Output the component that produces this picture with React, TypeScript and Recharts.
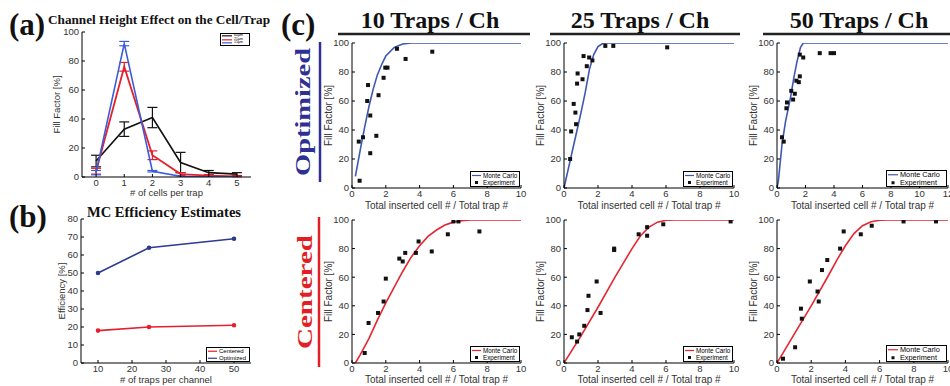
import React from 'react';
import { ComposedChart, Line, Scatter, XAxis, YAxis, ErrorBar, Legend } from 'recharts';

const SANS = '"Liberation Sans", Arial, Helvetica, sans-serif';
const SERIF = '"Liberation Serif", "Times New Roman", serif';

// ---------- (a) Channel height effect ----------
const cellsPerTrap = [0, 1, 2, 3, 4, 5];
const fill60um = [11, 33, 41, 10, 3, 2];
const err60um = [4, 5, 7, 7, 1.5, 1];
const fill21um = [4, 76, 15, 2, 1, 0.5];
const err21um = [2, 3, 3, 1, 0.5, 0.3];
const fill15um = [3, 92, 4, 0.5, 0, 0];
const err15um = [1.5, 1.5, 0.5, 0, 0, 0];
const heightNames = ['60μm', '21μm', '15μm'];
const aTicksX = [0, 1, 2, 3, 4, 5];
const ffTicks = [0, 20, 40, 60, 80, 100];

// ---------- (b) MC efficiency ----------
const trapsPerChannel = [10, 25, 50];
const effCentered = [18, 20, 21];
const effOptimized = [50, 64, 69];
const bTicksX = [10, 20, 30, 40, 50];
const bTicksY = [0, 10, 20, 30, 40, 50, 60, 70, 80];
const bNames = ['Centered', 'Optimized'];

// ---------- (c) Monte Carlo curves ----------
const mcOpt10X = [0.2, 0.5, 0.75, 1, 1.25, 1.5, 1.75, 2, 2.5, 3, 3.5, 10];
const mcOpt10Y = [8, 27, 42, 56, 68, 78, 85, 91, 97, 99.3, 100, 100];
const mcOpt25X = [0, 0.25, 0.5, 0.75, 1, 1.25, 1.5, 1.75, 2, 2.25, 2.5, 10];
const mcOpt25Y = [0, 13, 26, 39, 52, 66, 82, 92, 97.5, 99.5, 100, 100];
const mcOpt50X = [0, 0.1, 0.35, 0.6, 0.94, 1.2, 1.4, 1.65, 1.85, 12];
const mcOpt50Y = [0, 5, 30, 46, 62, 77, 87, 97, 100, 100];
const mcCen10X = [0.2, 0.5, 1, 1.5, 2, 2.5, 3, 3.5, 4, 4.5, 5, 5.5, 6, 6.5, 7, 10];
const mcCen10Y = [0, 6, 17, 30, 42, 53, 64, 74, 82, 88.5, 93, 96.5, 98.5, 99.5, 100, 100];
const mcCen25X = [0, 1, 2, 3, 3.5, 4, 4.5, 5, 5.5, 6, 6.5, 10];
const mcCen25Y = [0, 19, 39, 60, 70, 80, 89, 95, 98.5, 99.8, 100, 100];
const mcCen50X = [0, 1, 2, 3, 3.5, 4, 4.5, 5, 5.5, 6, 6.5, 10];
const mcCen50Y = [0, 20, 40, 61, 72, 82, 90.5, 96, 98.8, 99.8, 100, 100];

// ---------- (c) Experiments ----------
const exOpt10X = [0.4, 0.45, 0.65, 0.9, 0.95, 1.08, 1.08, 1.44, 1.57, 1.87, 1.97, 2.1, 2.66, 3.17, 4.75];
const exOpt10Y = [32, 5, 35, 60, 71, 50, 24, 36, 64, 76, 83, 83, 96, 89, 94];
const exOpt25X = [0.36, 0.42, 0.57, 0.67, 0.71, 0.77, 0.8, 1.09, 1.15, 1.34, 1.48, 1.67, 2.43, 2.9, 6.07];
const exOpt25Y = [20, 39, 58, 52, 44, 72, 79, 75, 91, 84, 90, 88, 98, 98, 97];
const exOpt50X = [0.35, 0.47, 0.66, 0.7, 1.0, 1.13, 1.25, 1.36, 1.53, 1.6, 1.6, 1.84, 3.0, 3.76, 4.0];
const exOpt50Y = [35, 32, 55, 59, 67, 61, 65, 74, 73, 77, 92, 90, 93, 93, 93];
const exCen10X = [0.75, 0.98, 1.54, 1.87, 2.0, 2.8, 3.0, 3.15, 3.78, 3.94, 4.72, 5.67, 6.0, 6.3, 7.54];
const exCen10Y = [7, 28, 35, 43, 59, 73, 71, 77, 77, 85, 78, 90, 99, 99, 92];
const exCen25X = [0.46, 0.77, 0.9, 1.19, 1.38, 1.44, 1.92, 2.15, 2.95, 2.95, 4.39, 4.89, 4.89, 5.84, 9.8];
const exCen25Y = [18, 15, 20, 26, 37, 47, 57, 35, 80, 79, 90, 95, 89, 97, 99];
const exCen50X = [0.35, 1.06, 1.4, 1.45, 1.92, 2.37, 2.44, 2.63, 2.94, 3.69, 3.9, 4.9, 5.54, 7.4, 9.3];
const exCen50Y = [3, 11, 38, 31, 57, 50, 43, 65, 72, 80, 92, 90, 96, 99, 99];

const cTicks10 = [0, 2, 4, 6, 8, 10];
const cTicks12 = [0, 2, 4, 6, 8, 10, 12];
const cNames = ['Monte Carlo', 'Experiment'];
const columnTitles = ['10 Traps / Ch', '25 Traps / Ch', '50 Traps / Ch'];
const rowTitles = ['Optimized', 'Centered'];

const BLACK = '#111';
const RED = '#e5202e';
const BLUE_A = '#3b5bd9';
const NAVY = '#2c3b8f';
const MC_BLUE = '#3d58b0';
const MC_RED = '#e52632';
const OPT_COLOR = '#2e3192';
const CEN_COLOR = '#e31e24';
const TXT = '#333';

const pts = (xs: number[], ys: number[]) => xs.map((x, i) => ({ x, y: ys[i] }));

const aData = cellsPerTrap.map((n, i) => ({
  x: n, h60: fill60um[i], e60: err60um[i], h21: fill21um[i], e21: err21um[i], h15: fill15um[i], e15: err15um[i],
}));
const bData = trapsPerChannel.map((t, i) => ({ x: t, cen: effCentered[i], opt: effOptimized[i] }));

const MT = 6;
const MR = 8;

type LegendSpec = { w: number; h: number; fs: number; sample: number; corner: 'tr' | 'br'; order: string[] };

function makeLegendContent(spec: LegendSpec) {
  return (props: any) => {
    const raw = props.payload || [];
    const items = [...raw].sort((a: any, b: any) => spec.order.indexOf(a.value) - spec.order.indexOf(b.value));
    const rowH = (spec.h - 2) / Math.max(items.length, 1);
    return (
      <div style={{ width: spec.w, height: spec.h, boxSizing: 'border-box', border: '1px solid #000', background: '#fff', fontFamily: SANS, fontSize: spec.fs, color: '#000', whiteSpace: 'nowrap', overflow: 'hidden' }}>
        {items.map((it: any, i: number) => (
          <div key={i} style={{ display: 'flex', alignItems: 'center', height: rowH, lineHeight: `${rowH}px` }}>
            <svg width={spec.sample} height={rowH} style={{ flex: 'none' }}>
              {it.type === 'square' ? (
                <rect x={spec.sample / 2 - 1.5} y={rowH / 2 - 1.5} width={3} height={3} fill={it.color} />
              ) : (
                <line x1={1} x2={spec.sample - 1} y1={rowH / 2} y2={rowH / 2} stroke={it.color} strokeWidth={1.2} />
              )}
            </svg>
            <span style={{ marginLeft: 1 }}>{it.value}</span>
          </div>
        ))}
      </div>
    );
  };
}

type PanelProps = {
  left: number; top: number; w: number; h: number; yw: number; xh: number;
  xDomain: [number, number]; xTicks: number[]; yDomain: [number, number]; yTicks: number[];
  xLabel: string; yLabel: string; tickFs: number; labelFs: number;
  data?: any[]; yKey?: string; legend?: LegendSpec; children: React.ReactNode;
};

function Panel(p: PanelProps) {
  const cw = p.yw + p.w + MR;
  const ch = MT + p.h + p.xh;
  const cl = p.left - p.yw;
  const ct = p.top - MT;
  let legendEl: React.ReactNode = null;
  if (p.legend) {
    const lg = p.legend;
    const lx = p.yw + p.w - lg.w - 1;
    const ly = lg.corner === 'tr' ? MT + 1 : MT + p.h - lg.h - 1;
    legendEl = (
      <Legend layout="vertical" align="center" verticalAlign="middle" content={makeLegendContent(lg)}
        wrapperStyle={{ left: lx, top: ly, right: 'auto', bottom: 'auto', width: lg.w, height: lg.h, margin: 0, padding: 0 }} />
    );
  }
  const tickStyle = { fill: TXT, fontSize: p.tickFs, fontFamily: SANS };
  return (
    <div style={{ position: 'absolute', left: cl, top: ct, width: cw, height: ch }}>
      <ComposedChart width={cw} height={ch} data={p.data} margin={{ top: MT, right: MR, bottom: 0, left: 0 }}>
        <XAxis type="number" dataKey="x" domain={p.xDomain} ticks={p.xTicks} allowDataOverflow interval={0}
          height={p.xh} tickSize={-3} tickMargin={5} stroke="#000" tick={tickStyle}
          label={{ value: p.xLabel, position: 'center', fontSize: p.labelFs, fill: TXT, fontFamily: SANS }} />
        <YAxis type="number" dataKey={p.yKey} domain={p.yDomain} ticks={p.yTicks} allowDataOverflow interval={0}
          width={p.yw} tickSize={-3} tickMargin={6} stroke="#000" tick={tickStyle}
          label={{ value: p.yLabel, position: 'center', angle: -90, fontSize: p.labelFs, fill: TXT, fontFamily: SANS }} />
        <XAxis xAxisId="t" orientation="top" type="number" domain={p.xDomain} ticks={p.xTicks} allowDataOverflow interval={0}
          height={0} tick={false} tickSize={-3} stroke="#000" />
        <YAxis yAxisId="r" orientation="right" type="number" domain={p.yDomain} ticks={p.yTicks} allowDataOverflow interval={0}
          width={0} tick={false} tickSize={-3} stroke="#000" />
        {p.children}
        {legendEl}
      </ComposedChart>
    </div>
  );
}

const squareShape = (props: any) => (
  <rect x={props.cx - 2} y={props.cy - 2} width={4} height={4} fill={BLACK} />
);

const colLefts = [352, 564, 777];
const colWidths = [169, 170, 171];
const rowTops = [43, 220];
const rowHeights = [145, 143];
const rowXh = [34, 33];

const cPanels = [
  { row: 0, col: 0, mcX: mcOpt10X, mcY: mcOpt10Y, exX: exOpt10X, exY: exOpt10Y, color: MC_BLUE, ticks: cTicks10, dom: [0, 10] as [number, number] },
  { row: 0, col: 1, mcX: mcOpt25X, mcY: mcOpt25Y, exX: exOpt25X, exY: exOpt25Y, color: MC_BLUE, ticks: cTicks10, dom: [0, 10] as [number, number] },
  { row: 0, col: 2, mcX: mcOpt50X, mcY: mcOpt50Y, exX: exOpt50X, exY: exOpt50Y, color: MC_BLUE, ticks: cTicks12, dom: [0, 12] as [number, number] },
  { row: 1, col: 0, mcX: mcCen10X, mcY: mcCen10Y, exX: exCen10X, exY: exCen10Y, color: MC_RED, ticks: cTicks10, dom: [0, 10] as [number, number] },
  { row: 1, col: 1, mcX: mcCen25X, mcY: mcCen25Y, exX: exCen25X, exY: exCen25Y, color: MC_RED, ticks: cTicks10, dom: [0, 10] as [number, number] },
  { row: 1, col: 2, mcX: mcCen50X, mcY: mcCen50Y, exX: exCen50X, exY: exCen50Y, color: MC_RED, ticks: cTicks10, dom: [0, 10] as [number, number] },
];

function Overlay() {
  const headerCenters = [430, 640, 859];
  const underline = [[338, 530], [550, 740], [763, 950]];
  return (
    <svg width={950} height={386} style={{ position: 'absolute', left: 0, top: 0 }}>
      <g fontFamily={SERIF} fontWeight="bold" fill="#111">
        <text x={9} y={35} fontSize={31}>(a)</text>
        <text x={9} y={227} fontSize={31}>(b)</text>
        <text x={281} y={35} fontSize={31}>(c)</text>
        <text x={159} y={24} fontSize={13} textAnchor="middle" textLength={222} lengthAdjust="spacingAndGlyphs">Channel Height Effect on the Cell/Trap</text>
        <text x={164} y={217} fontSize={14.5} textAnchor="middle" textLength={154} lengthAdjust="spacingAndGlyphs">MC Efficiency Estimates</text>
        {columnTitles.map((t, i) => (
          <text key={t} x={headerCenters[i]} y={28} fontSize={24} textAnchor="middle">{t}</text>
        ))}
      </g>
      {underline.map((u, i) => (
        <line key={i} x1={u[0]} x2={u[1]} y1={34} y2={34} stroke="#222" strokeWidth={2.5} />
      ))}
      <text transform="translate(310,112) rotate(-90)" fontFamily={SERIF} fontWeight="bold" fontSize={21} fill={OPT_COLOR}
        textAnchor="middle" textLength={128} lengthAdjust="spacingAndGlyphs">{rowTitles[0]}</text>
      <line x1={320} x2={320} y1={42} y2={182} stroke={OPT_COLOR} strokeWidth={2.5} />
      <text transform="translate(312,292) rotate(-90)" fontFamily={SERIF} fontWeight="bold" fontSize={21} fill={CEN_COLOR}
        textAnchor="middle" textLength={114} lengthAdjust="spacingAndGlyphs">{rowTitles[1]}</text>
      <line x1={319} x2={319} y1={217} y2={367} stroke={CEN_COLOR} strokeWidth={2.5} />
    </svg>
  );
}

export default function App() {
  return (
    <div style={{ position: 'absolute', left: 0, top: 0, width: 950, height: 386, overflow: 'hidden', background: '#fff' }}>
      <Overlay />
      {/* (a) */}
      <Panel left={82} top={32} w={169} h={145} yw={50} xh={32} xDomain={[-0.5, 5.5]} xTicks={aTicksX}
        yDomain={[0, 100]} yTicks={ffTicks} xLabel="# of cells per trap" yLabel="Fill Factor [%]" tickFs={9.5} labelFs={9.5}
        data={aData} legend={{ w: 30, h: 13, fs: 3.6, sample: 12, corner: 'tr', order: heightNames }}>
        <Line dataKey="h60" name={heightNames[0]} stroke={BLACK} strokeWidth={1.6} dot={false} isAnimationActive={false} legendType="line">
          <ErrorBar dataKey="e60" width={5} stroke={BLACK} strokeWidth={1.2} direction="y" />
        </Line>
        <Line dataKey="h21" name={heightNames[1]} stroke={RED} strokeWidth={1.8} dot={false} isAnimationActive={false} legendType="line">
          <ErrorBar dataKey="e21" width={5} stroke={RED} strokeWidth={1.2} direction="y" />
        </Line>
        <Line dataKey="h15" name={heightNames[2]} stroke={BLUE_A} strokeWidth={1.6} dot={false} isAnimationActive={false} legendType="line">
          <ErrorBar dataKey="e15" width={5} stroke={BLUE_A} strokeWidth={1.2} direction="y" />
        </Line>
      </Panel>
      {/* (b) */}
      <Panel left={81} top={219} w={170} h={144} yw={38} xh={33} xDomain={[5, 55]} xTicks={bTicksX}
        yDomain={[0, 80]} yTicks={bTicksY} xLabel="# of traps per channel" yLabel="Efficiency [%]" tickFs={9.5} labelFs={9.5}
        data={bData} legend={{ w: 44, h: 15, fs: 6, sample: 11, corner: 'br', order: bNames }}>
        <Line dataKey="cen" name={bNames[0]} stroke={RED} strokeWidth={1.6} dot={{ r: 1.5, fill: RED, stroke: RED }} isAnimationActive={false} legendType="line" />
        <Line dataKey="opt" name={bNames[1]} stroke={NAVY} strokeWidth={1.6} dot={{ r: 1.5, fill: NAVY, stroke: NAVY }} isAnimationActive={false} legendType="line" />
      </Panel>
      {/* (c) */}
      {cPanels.map((c, i) => (
        <Panel key={i} left={colLefts[c.col]} top={rowTops[c.row]} w={colWidths[c.col]} h={rowHeights[c.row]} yw={48} xh={rowXh[c.row]}
          xDomain={c.dom} xTicks={c.ticks} yDomain={[0, 100]} yTicks={ffTicks} yKey="y"
          xLabel="Total inserted cell # / Total trap #" yLabel="Fill Factor [%]" tickFs={9.5} labelFs={10}
          legend={c.col === 2 ? { w: 61, h: 17, fs: 7.3, sample: 12, corner: 'br', order: cNames } : { w: 50, h: 16, fs: 6.3, sample: 11, corner: 'br', order: cNames }}>
          <Line data={pts(c.mcX, c.mcY)} dataKey="y" name={cNames[0]} stroke={c.color} strokeWidth={1.6} dot={false} isAnimationActive={false} legendType="line" type="linear" />
          <Scatter data={pts(c.exX, c.exY)} dataKey="y" name={cNames[1]} fill={BLACK} shape={squareShape} isAnimationActive={false} legendType="square" />
        </Panel>
      ))}
    </div>
  );
}
